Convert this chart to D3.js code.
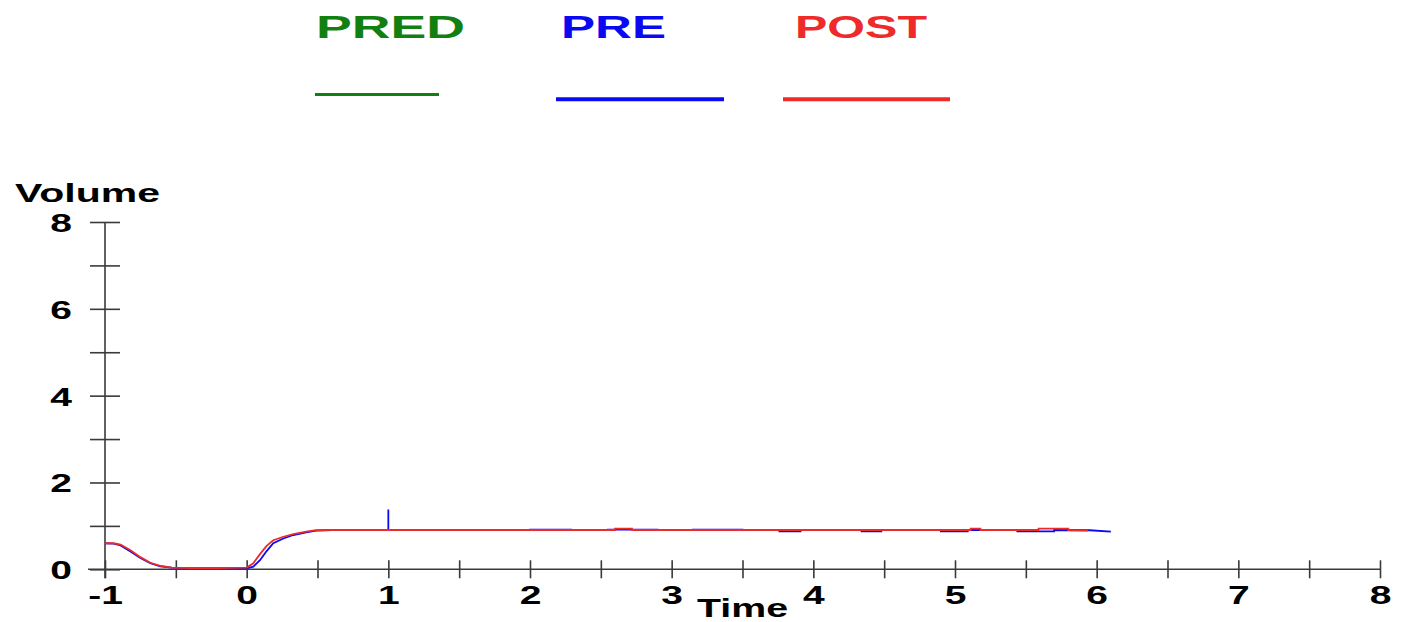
<!DOCTYPE html>
<html>
<head>
<meta charset="utf-8">
<script src="https://cdn.jsdelivr.net/npm/d3@7"></script>
<style>
  html, body { margin: 0; padding: 0; background: #fff; }
  svg { display: block; }
  text { font-family: "Liberation Sans", Arial, sans-serif; font-weight: bold; }
</style>
</head>
<body>
<svg id="chart" width="1406" height="622"></svg>
<script>
// ---- data ----
const seriesNames = ["PRED", "PRE", "POST"];
const seriesColors = ["#118011", "#0a0af0", "#ee2a2a"];

const xTicks = [-1, -0.5, 0, 0.5, 1, 1.5, 2, 2.5, 3, 3.5, 4, 4.5, 5, 5.5, 6, 6.5, 7, 7.5, 8];
const xTickLabels = ["-1", "", "0", "", "1", "", "2", "", "3", "", "4", "", "5", "", "6", "", "7", "", "8"];
const yTicks = [0, 1, 2, 3, 4, 5, 6, 7, 8];
const yTickLabels = ["0", "", "2", "", "4", "", "6", "", "8"];

const predTime = [];
const predVolume = [];

const preTime = [-1, -0.94, -0.89, -0.82, -0.75, -0.68, -0.61, -0.53, -0.4, -0.2, 0, 0.047, 0.094, 0.141, 0.188, 0.259, 0.33, 0.42, 0.49, 0.6,
  1, 1, 1, 2.0, 2.0, 2.29, 2.29, 2.55, 2.55, 2.9, 2.9, 3.15, 3.15, 3.5, 3.5, 3.76, 3.76, 3.91, 3.91, 4.34, 4.34, 4.48, 4.48,
  4.9, 4.9, 5.09, 5.09, 5.44, 5.44, 5.7, 5.7, 5.95, 6.1];
const preVolume = [0.60, 0.59, 0.55, 0.41, 0.26, 0.14, 0.07, 0.04, 0.03, 0.03, 0.02, 0.06, 0.21, 0.42, 0.60, 0.71, 0.79, 0.85, 0.89, 0.905,
  0.905, 1.38, 0.905, 0.905, 0.915, 0.915, 0.905, 0.905, 0.915, 0.915, 0.905, 0.905, 0.915, 0.915, 0.905, 0.905, 0.875, 0.875, 0.905, 0.905, 0.875, 0.875, 0.905,
  0.905, 0.875, 0.875, 0.905, 0.905, 0.875, 0.875, 0.905, 0.90, 0.87];

const postTime = [-1, -0.94, -0.89, -0.82, -0.75, -0.68, -0.61, -0.53, -0.4, -0.2, 0, 0.047, 0.094, 0.141, 0.188, 0.259, 0.33, 0.42, 0.49, 0.6,
  2.6, 2.6, 2.72, 2.72, 5.11, 5.11, 5.18, 5.18, 5.59, 5.59, 5.8, 5.8, 5.94];
const postVolume = [0.60, 0.60, 0.57, 0.44, 0.28, 0.15, 0.08, 0.04, 0.03, 0.03, 0.04, 0.14, 0.35, 0.54, 0.67, 0.75, 0.81, 0.87, 0.90, 0.905,
  0.905, 0.935, 0.935, 0.905, 0.905, 0.935, 0.935, 0.905, 0.905, 0.935, 0.935, 0.905, 0.89];

// ---- layout ----
const svg = d3.select("#chart");
const stretch = 1.5;
const x = d3.scaleLinear().domain([-1, 8]).range([105, 1380]);
const y = d3.scaleLinear().domain([0, 8]).range([569.3, 222]);
const axisColor = "#3a3a3a";

// Y axis
const yAxis = d3.axisLeft(y).tickValues(yTicks).tickFormat((d, i) => yTickLabels[i]).tickSize(0);
const gy = svg.append("g").attr("transform", `translate(${x(-1)},0)`).call(yAxis);
gy.select(".domain").remove();
gy.selectAll(".tick line").attr("x1", -15).attr("x2", 15).attr("stroke", axisColor).attr("stroke-width", 1.6);
gy.selectAll(".tick text")
  .attr("x", null).attr("dy", null)
  .attr("text-anchor", "end")
  .attr("transform", `translate(-33,9.5) scale(${stretch},1)`)
  .attr("font-size", 26).attr("fill", "#000")
  .style("font-family", "'Liberation Sans', Arial, sans-serif").style("font-weight", "bold");
svg.append("line").attr("x1", x(-1)).attr("x2", x(-1)).attr("y1", y(8)).attr("y2", y(0) + 9)
  .attr("stroke", axisColor).attr("stroke-width", 1.6);

// X axis
const xAxis = d3.axisBottom(x).tickValues(xTicks).tickFormat((d, i) => xTickLabels[i]).tickSize(0);
const gx = svg.append("g").attr("transform", `translate(0,${y(0)})`).call(xAxis);
gx.select(".domain").remove();
gx.selectAll(".tick line").attr("y1", -9).attr("y2", 9).attr("stroke", axisColor).attr("stroke-width", 1.6);
gx.selectAll(".tick text")
  .attr("y", null).attr("dy", null)
  .attr("text-anchor", "middle")
  .attr("transform", `translate(0,35) scale(${stretch},1)`)
  .attr("font-size", 26).attr("fill", "#000")
  .style("font-family", "'Liberation Sans', Arial, sans-serif").style("font-weight", "bold");
svg.append("line").attr("x1", 88).attr("x2", x(8)).attr("y1", y(0)).attr("y2", y(0))
  .attr("stroke", axisColor).attr("stroke-width", 1.6);

// Axis titles
svg.append("text").attr("x", 15).attr("y", 202).attr("font-size", 26)
  .attr("textLength", 145).attr("lengthAdjust", "spacingAndGlyphs").text("Volume");
svg.append("text").attr("x", 697).attr("y", 617).attr("font-size", 26)
  .attr("textLength", 91).attr("lengthAdjust", "spacingAndGlyphs").text("Time");

// Legend
const legendTextX = [316, 561, 795];
const legendTextW = [149, 105, 132];
const legendLineX1 = [315, 556, 783];
const legendLineX2 = [439, 724, 950];
const legendLineY = [94.5, 99.3, 99.3];
const legendLineW = [3, 4, 4];
seriesNames.forEach((n, i) => {
  svg.append("text").attr("x", legendTextX[i]).attr("y", 37.5).attr("font-size", 32)
    .attr("fill", seriesColors[i]).attr("textLength", legendTextW[i]).attr("lengthAdjust", "spacingAndGlyphs").text(n);
  svg.append("line").attr("x1", legendLineX1[i]).attr("x2", legendLineX2[i])
    .attr("y1", legendLineY[i]).attr("y2", legendLineY[i])
    .attr("stroke", seriesColors[i]).attr("stroke-width", legendLineW[i]);
});

// Series
const line = d3.line().x(d => x(d[0])).y(d => y(d[1]));
const series = [
  { t: predTime, v: predVolume, c: seriesColors[0] },
  { t: preTime, v: preVolume, c: seriesColors[1] },
  { t: postTime, v: postVolume, c: seriesColors[2] }
];
series.forEach(s => {
  if (!s.t.length) return;
  const pts = s.t.map((t, i) => [t, s.v[i]]);
  svg.append("path").datum(pts).attr("d", line)
    .attr("fill", "none").attr("stroke", s.c).attr("stroke-width", 1.8);
});
</script>
</body>
</html>
